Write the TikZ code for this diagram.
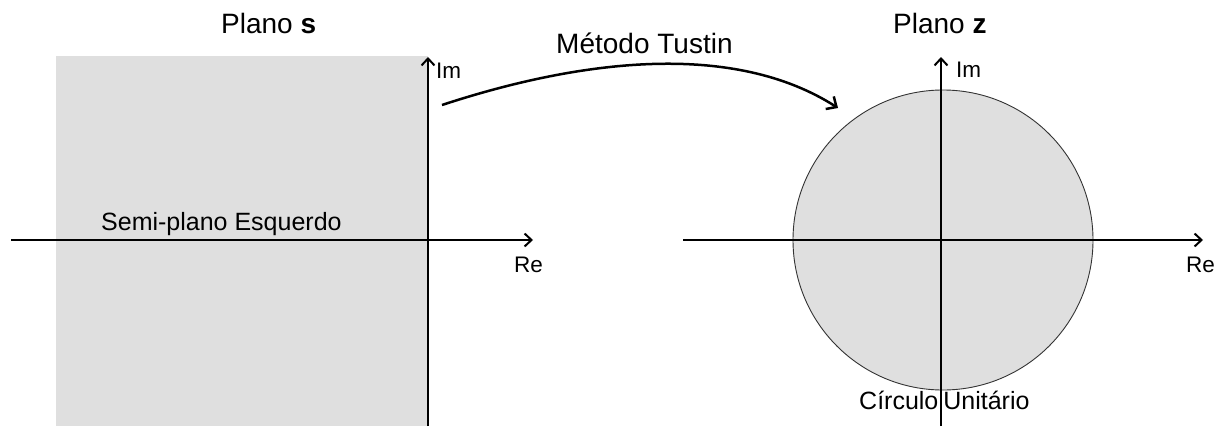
\documentclass[tikz,border=0pt]{standalone}
\usepackage{fontspec}
\setmainfont{Liberation Sans}
\usetikzlibrary{arrows.meta}
\definecolor{planegray}{HTML}{DFDFDF}
\tikzset{
  axis/.style={line width=2pt, -{Straight Barb[length=7pt,width=13pt,line width=2pt]}},
  txt/.style={inner sep=0pt, anchor=base west},
  big/.style={font=\fontsize{28}{31}\selectfont},
  mid/.style={font=\fontsize{25}{28}\selectfont},
  small/.style={font=\fontsize{22.5}{25}\selectfont},
  mapping/.style={line width=2.5pt, -{Straight Barb[length=8pt,width=15pt,line width=2.5pt]}}
}
\begin{document}
\begin{tikzpicture}[x=1pt,y=-1pt]
\useasboundingbox (0,0) rectangle (1221,426);
% s-plane
\fill[planegray] (56,56) rectangle (428,426);
\coordinate (sO) at (428,426);
\coordinate (sImTip) at (428,57);
\coordinate (sReL) at (11,240);
\coordinate (sReR) at (533,240);
\draw[axis] (sO) -- (sImTip);
\draw[axis] (sReL) -- (sReR);
\node[txt,big] (ps) at (221,33) {Plano \textbf{s}};
\node[txt,mid] (semi) at (101,230) {Semi-plano Esquerdo};
\node[txt,small] (sre) at (514,272) {Re};
\node[txt,small] (sim) at (436,78) {Im};
% z-plane
\node[circle, draw=black!80, line width=0.9pt, fill=planegray, minimum size=300pt, inner sep=0pt] (uc) at (943,240) {};
\coordinate (zO) at (941,426);
\coordinate (zImTip) at (941,57);
\coordinate (zReL) at (683,240);
\coordinate (zReR) at (1203,240);
\draw[axis] (zO) -- (zImTip);
\draw[axis] (zReL) -- (zReR);
\node[txt,big] (pz) at (893,33) {Plano \textbf{z}};
\node[txt,small] (zre) at (1186,272) {Re};
\node[txt,small] (zim) at (956,77) {Im};
\node[txt,mid] (circ) at (859,409) {Círculo\hspace{5pt}Unitário};
% mapping arrow
\coordinate (ms) at (442,105);
\coordinate (me) at (838,108);
\draw[mapping] (ms) .. controls (585,58) and (735,42) .. (me);
\node[txt,big] (tustin) at (556,53) {Método Tustin};
\end{tikzpicture}
\end{document}
